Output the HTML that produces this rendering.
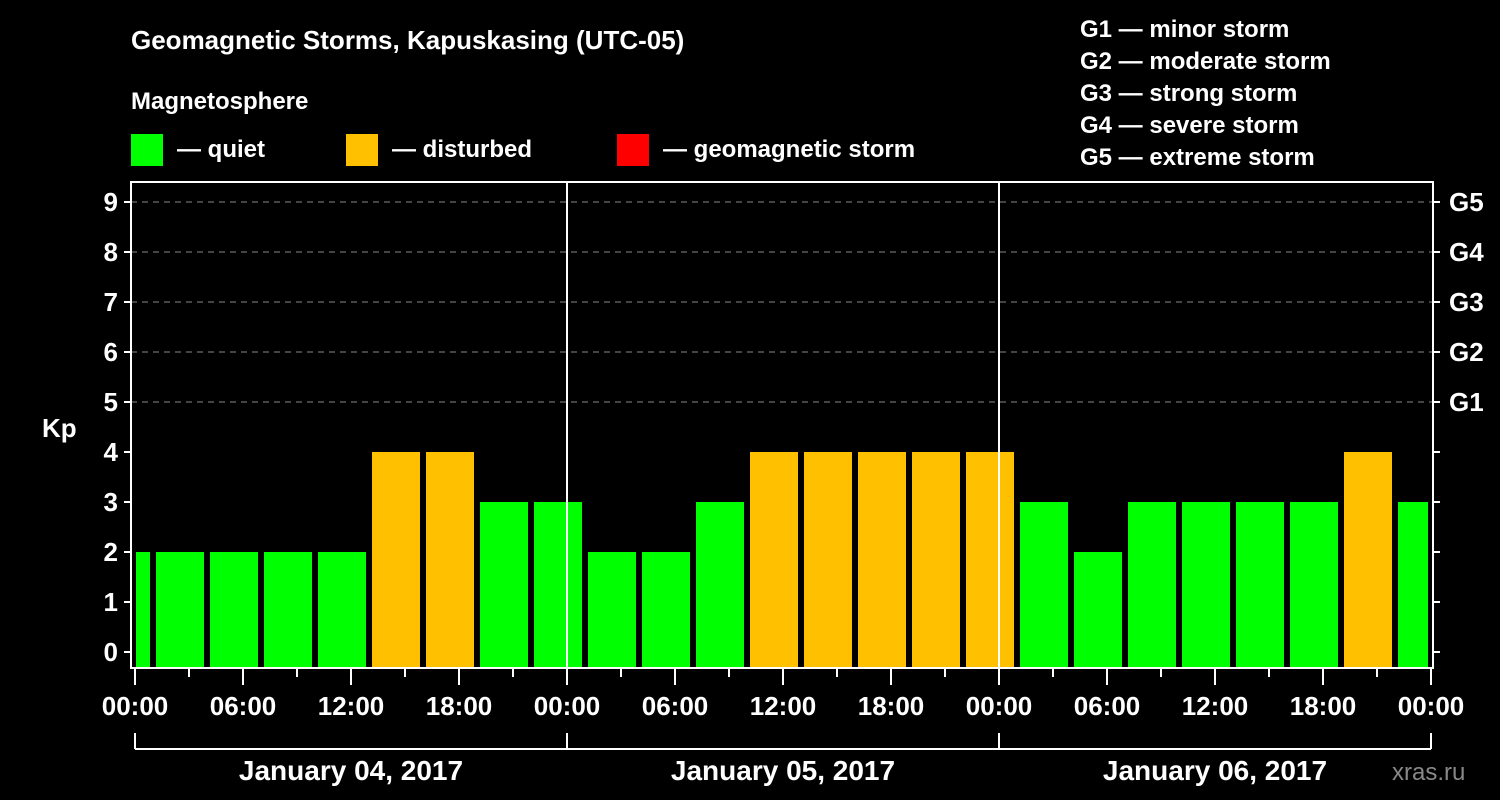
<!DOCTYPE html>
<html><head><meta charset="utf-8"><style>
body{margin:0;background:#000;}
svg{display:block;font-family:"Liberation Sans",Arial,sans-serif;font-weight:bold;}
</style></head><body>
<svg id="chart" width="1500" height="800" viewBox="0 0 1500 800">
<rect width="1500" height="800" fill="#000"/>
<text x="131" y="49" fill="#fff" font-size="26">Geomagnetic Storms, Kapuskasing (UTC-05)</text>
<text x="131" y="109" fill="#fff" font-size="24">Magnetosphere</text>
<g><rect x="131" y="134" width="32" height="32" fill="#00ff00"/><text x="177" y="157" fill="#fff" font-size="24">— quiet</text></g>
<g><rect x="346" y="134" width="32" height="32" fill="#ffc000"/><text x="392" y="157" fill="#fff" font-size="24">— disturbed</text></g>
<g><rect x="617" y="134" width="32" height="32" fill="#ff0000"/><text x="663" y="157" fill="#fff" font-size="24">— geomagnetic storm</text></g>
<g fill="#fff" font-size="24">
<text x="1080" y="37">G1 — minor storm</text>
<text x="1080" y="69">G2 — moderate storm</text>
<text x="1080" y="101">G3 — strong storm</text>
<text x="1080" y="133">G4 — severe storm</text>
<text x="1080" y="165">G5 — extreme storm</text>
</g>
<text x="42" y="437" fill="#fff" font-size="26">Kp</text>
<g id="grid"></g><g id="bars"></g><g id="axes"></g>
<text x="1392" y="780" fill="#888" font-size="24" font-weight="normal">xras.ru</text>
</svg>
<script>
const kpValues=[2,2,2,2,2,4,4,3,3,2,2,3,4,4,4,4,4,3,2,3,3,3,3,4,3];
const firstBarHour=-2;
const yTicks=[0,1,2,3,4,5,6,7,8,9];
const gLabels=["G1","G2","G3","G4","G5"];
const xTickLabels=["00:00","06:00","12:00","18:00","00:00","06:00","12:00","18:00","00:00","06:00","12:00","18:00","00:00"];
const dayLabels=["January 04, 2017","January 05, 2017","January 06, 2017"];
const NS="http://www.w3.org/2000/svg";
const X0=135,PX_H=18,Y0=652,PX_K=50,L=131,R=1433,T=182,B=668;
const xs=h=>X0+h*PX_H, ys=k=>Y0-k*PX_K;
function mk(p,tag,a){const e=document.createElementNS(NS,tag);for(const k in a)e.setAttribute(k,a[k]);p.appendChild(e);return e;}
const grid=document.getElementById('grid'),bars=document.getElementById('bars'),axes=document.getElementById('axes');
for(let k=5;k<=9;k++){const l=mk(grid,'line',{x1:L,x2:R,y1:ys(k),y2:ys(k),stroke:'#888','stroke-width':1,'stroke-dasharray':'6,5'});

}
kpValues.forEach((v,i)=>{const h=firstBarHour+i*3;let x1=Math.max(xs(h)+3,136),x2=Math.min(xs(h+3)-3,1428);
const c=v>=5?'#ff0000':(v>=4?'#ffc000':'#00ff00');
const r=mk(bars,'rect',{x:x1,y:ys(v),width:x2-x1,height:B-ys(v),fill:c});

});
for(let d=1;d<=2;d++){const l=mk(axes,'line',{x1:xs(24*d),x2:xs(24*d),y1:T,y2:B,stroke:'#fff','stroke-width':2});

}
const fr=mk(axes,'rect',{x:L,y:T,width:R-L,height:B-T,fill:'none',stroke:'#fff','stroke-width':2});


yTicks.forEach(k=>{mk(axes,'line',{x1:L-7,x2:L,y1:ys(k),y2:ys(k),stroke:'#fff','stroke-width':2});
mk(axes,'line',{x1:R,x2:R+7,y1:ys(k),y2:ys(k),stroke:'#fff','stroke-width':2});
const t=mk(axes,'text',{x:118,y:ys(k)+9,fill:'#fff','font-size':26,'text-anchor':'end'});t.textContent=k;

});
gLabels.forEach((g,i)=>{const t=mk(axes,'text',{x:1449,y:ys(5+i)+9,fill:'#fff','font-size':26});t.textContent=g;

});
for(let h=0;h<=72;h+=3){const major=h%6===0;mk(axes,'line',{x1:xs(h),x2:xs(h),y1:B,y2:B+(major?17:9),stroke:'#fff','stroke-width':2});}
xTickLabels.forEach((s,i)=>{const t=mk(axes,'text',{x:xs(i*6),y:715,fill:'#fff','font-size':26,'text-anchor':'middle'});t.textContent=s;

});
mk(axes,'line',{x1:xs(0),x2:xs(72),y1:749,y2:749,stroke:'#fff','stroke-width':2});
for(let d=0;d<=3;d++)mk(axes,'line',{x1:xs(24*d),x2:xs(24*d),y1:733,y2:749,stroke:'#fff','stroke-width':2});
dayLabels.forEach((s,i)=>{const t=mk(axes,'text',{x:xs(24*i+12),y:780,fill:'#fff','font-size':28,'text-anchor':'middle'});t.textContent=s;

});
</script>
</body></html>
